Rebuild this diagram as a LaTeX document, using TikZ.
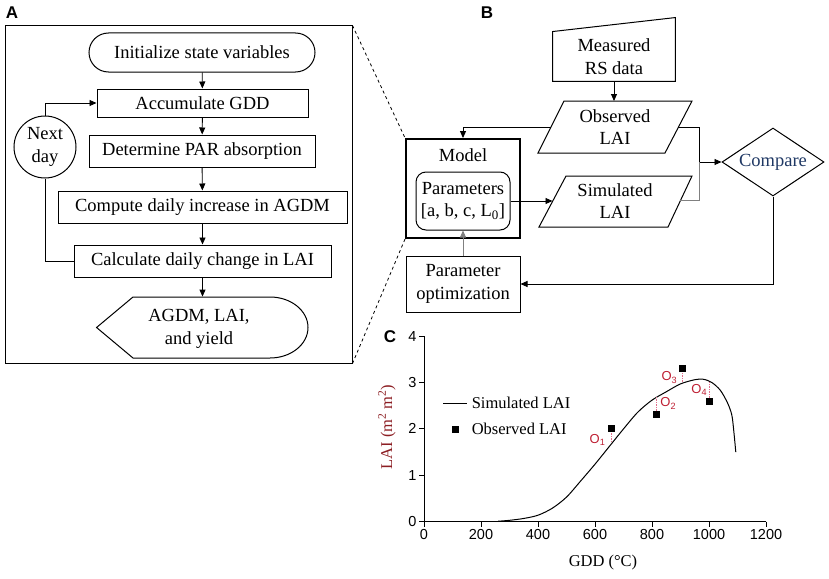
\documentclass[tikz,border=0pt]{standalone}
\usepackage{fontspec}
\setmainfont{Liberation Serif}
\setsansfont{Liberation Sans}
\usetikzlibrary{arrows.meta,shapes.geometric,calc}
\definecolor{navytext}{RGB}{31,56,100}
\definecolor{axisred}{RGB}{140,30,35}
\definecolor{olabred}{RGB}{190,30,50}
\definecolor{errpink}{RGB}{225,110,140}

\begin{document}
\begin{tikzpicture}[x=1pt,y=-1pt,
    >={Triangle[length=7pt,width=6pt]},
    every path/.style={line width=0.9pt},
    flow/.style={font=\fontsize{18.5}{22.5}\selectfont, align=center, inner sep=0pt},
    procbox/.style={flow, draw, line width=1pt},
    panlab/.style={font=\sffamily\bfseries\fontsize{17}{17}\selectfont},
    ticklab/.style={font=\sffamily\fontsize{14.5}{14.5}\selectfont, inner sep=2pt},
    plotlab/.style={font=\fontsize{16.5}{16.5}\selectfont},
    olab/.style={font=\sffamily\fontsize{13}{13}\selectfont, text=olabred, inner sep=0pt},
    obsmark/.style={fill=black, minimum size=7pt, inner sep=0pt},
    errline/.style={draw=errpink, line width=1pt, dash pattern=on 1.5pt off 1pt}]
    \useasboundingbox (0,0) rectangle (829,578);

    % panel A
    \node[panlab] (labA) at (12,13) {A};
    \node[draw, line width=1pt, minimum width=347pt, minimum height=337pt] (panA) at (178.5,194.5) {};
    \node[procbox, rounded corners=19.5pt, minimum width=226pt, minimum height=39pt] (init) at (202,52.5) {Initialize state variables};
    \node[procbox, minimum width=211pt, minimum height=28pt] (acc) at (202.5,103) {Accumulate GDD};
    \node[procbox, minimum width=226pt, minimum height=32pt] (par) at (202,151) {Determine PAR absorption};
    \node[procbox, minimum width=289pt, minimum height=32pt] (agdm) at (202.5,207) {Compute daily increase in AGDM};
    \node[procbox, minimum width=257pt, minimum height=32pt] (calc) at (202.5,261) {Calculate daily change in LAI};
    \node[procbox, circle, minimum size=62pt] (next) at (45,147) {Next\\day};
    \node[flow, minimum width=211pt, minimum height=61pt] (out) at (202.5,327.5) {};
    \node[flow] (outtxt) at (199,329) {AGDM, LAI,\\and yield};
    \draw[line width=1pt] (out.west) -- (133,297) -- (270,297)
        arc[start angle=90, end angle=-90, x radius=38pt, y radius=30.5pt] -- (133,358) -- cycle;

    \draw[->] (init) -- (acc);
    \draw[->] (acc) -- (par);
    \draw[->] (par) -- (agdm);
    \draw[->] (agdm) -- (calc);
    \draw[->] (calc) -- (out.north);
    \draw (calc.west) -| (next.south);
    \draw[->] (next.north) |- (acc.west);

    % panel B
    \node[panlab] (labB) at (487,13) {B};
    \node[flow, minimum width=122pt, minimum height=49pt] (meas) at (614,56.5) {Measured\\RS data};
    \draw[line width=1pt] (meas.south west) -- (meas.south east) -- ($(meas.north east)+(0,-14)$) -- (meas.north west) -- cycle;
    \node[flow] (obs) at (615,127) {Observed\\LAI};
    \draw[line width=1pt] (538,153) -- (564,101) -- (692,101) -- (665,153) -- cycle;
    \node[flow] (sim) at (615,201) {Simulated\\LAI};
    \draw[line width=1pt] (539,227) -- (566,176) -- (692,176) -- (668,227) -- cycle;
    \coordinate (obsN) at (614,101);
    \coordinate (obsW) at (551,127);
    \coordinate (obsE) at (678,127);
    \coordinate (simW) at (552.5,201);
    \coordinate (simE) at (680,200);
    \coordinate (join) at (699,162);

    \node[draw, line width=1.9pt, minimum width=114pt, minimum height=99pt] (model) at (463,188.5) {};
    \node[flow, anchor=north] (modlab) at ($(model.north)+(0,10)$) {Model};
    \node[procbox, rounded corners=10pt, minimum width=94pt, minimum height=58pt] (params) at (463,201) {Parameters\\{}[a, b, c, L\textsubscript{0}]};
    \node[procbox, minimum width=114pt, minimum height=56pt] (popt) at (463,284) {Parameter\\optimization};
    \node[procbox, diamond, aspect=1.5, minimum width=102pt, minimum height=68pt, text=navytext] (cmp) at (773,162) {Compare};

    \draw[->] (meas.south) -- (obsN);
    \draw[->] (obsW) -| (model.north);
    \draw[->] (obsE) -| (join) -- (cmp.west);
    \draw[gray] (simE) -| (join);
    \draw[->] (params.east) -- (simW);
    \draw[->] (cmp.south) |- (popt.east);
    \draw[->, gray] (popt.north) -- (params.south);

    \draw[dashed, line width=0.8pt] (panA.north east) -- (model.north west);
    \draw[dashed, line width=0.8pt] (panA.south east) -- (model.south west);

    % panel C
    \node[panlab] (labC) at (390,337) {C};
    \begin{scope}[shift={(424,521.7)}, x=0.285pt, y=46.4pt]
        \draw (0,4) -- (0,0) -- (1200,0);
        \foreach \v in {0,...,4}
            \draw (0,\v) -- ++(-5pt,0) node[left, ticklab] {\v};
        \foreach \g in {0,200,...,1200}
            \draw (\g,0) -- ++(0,-5pt) node[below, ticklab] {\g};
        \draw[line width=1pt] plot[smooth, tension=0.5] coordinates {(260,0.01) (300,0.03) (350,0.07)
            (400,0.14) (450,0.29) (500,0.53) (550,0.88) (600,1.24) (650,1.62) (700,2.0) (750,2.36)
            (800,2.62) (850,2.8) (900,2.97) (950,3.06) (980,3.07) (1010,3.0) (1040,2.83) (1065,2.56)
            (1080,2.3) (1087,1.95) (1094,1.5)};
        \draw[errline] (658,1.96) -- (658,1.7);
        \draw[errline] (816,2.34) -- (816,2.68);
        \draw[errline] (908,3.26) -- (908,3.0);
        \draw[errline] (1003,2.56) -- (1003,3.01);
        \node[obsmark] (m1) at (658,2.0) {};
        \node[obsmark] (m2) at (816,2.31) {};
        \node[obsmark] (m3) at (908,3.30) {};
        \node[obsmark] (m4) at (1003,2.6) {};
        \node[olab] (o1) at (609,1.76) {O\textsubscript{1}};
        \node[olab] (o2) at (857,2.55) {O\textsubscript{2}};
        \node[olab] (o3) at (861,3.11) {O\textsubscript{3}};
        \node[olab] (o4) at (966,2.84) {O\textsubscript{4}};
    \end{scope}

    \coordinate (legA) at (443,403);
    \coordinate (legB) at (467,403);
    \draw[line width=1pt] (legA) -- (legB);
    \node[plotlab, anchor=west] (legsim) at (468,403) {Simulated LAI};
    \node[obsmark] (legmark) at (455,429) {};
    \node[plotlab, anchor=west] (legobs) at (468,429) {Observed LAI};
    \node[plotlab] (xlab) at (603,563) {GDD (°C)};
    \node[plotlab, rotate=90, text=axisred] (ylab) at (387,427) {LAI (m\textsuperscript{2} m\textsuperscript{2})};
\end{tikzpicture}
\end{document}
